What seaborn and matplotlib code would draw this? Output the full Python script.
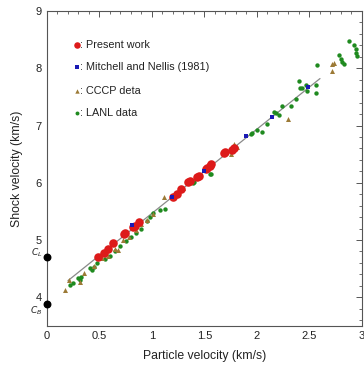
import numpy as np
import pandas as pd
import matplotlib
matplotlib.use("Agg")
import matplotlib.pyplot as plt
from matplotlib.ticker import MultipleLocator
import seaborn as sns

# Present work
present_up = [0.49, 0.54, 0.58, 0.63, 0.73, 0.74, 0.82, 0.84, 0.88, 1.20, 1.24, 1.28,
              1.34, 1.36, 1.43, 1.45, 1.51, 1.52, 1.55, 1.56, 1.69, 1.70, 1.76, 1.78]
present_us = [4.70, 4.78, 4.84, 4.95, 5.10, 5.13, 5.22, 5.24, 5.32, 5.76, 5.80, 5.89,
              6.01, 6.03, 6.10, 6.12, 6.24, 6.26, 6.30, 6.32, 6.52, 6.54, 6.57, 6.61]

# Mitchell and Nellis (1981)
mn_up = [0.81, 1.19, 1.50, 1.90, 2.14, 2.49]
mn_us = [5.26, 5.75, 6.20, 6.82, 7.14, 7.67]

# CCCP data
cccp_up = [0.17, 0.21, 0.31, 0.35, 0.45, 0.52, 0.58, 0.65, 0.68, 0.72, 0.78, 0.85,
           0.90, 0.95, 1.01, 1.11, 1.25, 1.30, 1.75, 1.78, 1.81, 2.30, 2.71, 2.71, 2.73]
cccp_us = [4.12, 4.30, 4.27, 4.43, 4.55, 4.68, 4.72, 4.85, 4.83, 5.00, 5.05, 5.18,
           5.28, 5.35, 5.45, 5.76, 5.82, 5.90, 6.51, 6.68, 6.63, 7.12, 7.96, 8.07, 8.10]

# LANL data
lanl_up = [0.22, 0.25, 0.30, 0.31, 0.32, 0.41, 0.43, 0.45, 0.48, 0.55, 0.60, 0.65,
           0.70, 0.75, 0.80, 0.85, 0.90, 0.95, 0.98, 1.01, 1.08, 1.12, 1.39, 1.40,
           1.55, 1.56, 1.94, 1.95, 2.00, 2.05, 2.10, 2.16, 2.18, 2.21, 2.24, 2.32,
           2.37, 2.40, 2.41, 2.43, 2.47, 2.48, 2.56, 2.56, 2.57, 2.78, 2.80, 2.81,
           2.83, 2.88, 2.92, 2.94, 2.94, 2.95]
lanl_us = [4.22, 4.25, 4.33, 4.30, 4.36, 4.51, 4.48, 4.53, 4.59, 4.66, 4.72, 4.80,
           4.90, 4.98, 5.05, 5.13, 5.20, 5.33, 5.41, 5.47, 5.52, 5.55, 6.00, 6.02,
           6.16, 6.16, 6.86, 6.87, 6.92, 6.89, 7.02, 7.24, 7.21, 7.18, 7.34, 7.34,
           7.46, 7.78, 7.65, 7.66, 7.71, 7.61, 7.57, 7.71, 8.05, 8.23, 8.17, 8.11,
           8.08, 8.48, 8.40, 8.33, 8.27, 8.21]

# linear fit line endpoints
fit_up = [0.20, 2.60]
fit_us = [4.29, 7.82]

# sound speeds on the y axis
c_names = ["$C_L$", "$C_B$"]
c_us = [4.70, 3.88]

sns.set_theme(style="white")
plt.rcParams["font.family"] = ["Liberation Sans", "DejaVu Sans"]

fig = plt.figure(figsize=(3.64, 3.67), dpi=100)
ax = fig.add_axes([0.129, 0.112, 0.8655, 0.858])

ax.plot(fit_up, fit_us, color="#8a8a8a", lw=0.9, zorder=1)

sns.scatterplot(x=lanl_up, y=lanl_us, ax=ax, color="#1f8a1f", marker="o", s=10,
                linewidth=0, zorder=2)
sns.scatterplot(x=cccp_up, y=cccp_us, ax=ax, color="#9c7a36", marker="^", s=13,
                linewidth=0, zorder=3)
sns.scatterplot(x=present_up, y=present_us, ax=ax, color="#dd1a1a", marker="o", s=38,
                linewidth=0, zorder=4)
sns.scatterplot(x=mn_up, y=mn_us, ax=ax, color="#1a1ab4", marker="s", s=12,
                linewidth=0, zorder=5)

ax.scatter([0, 0], c_us, color="black", s=22, zorder=6, clip_on=False)
ax.text(-0.045, c_us[0] + 0.07, c_names[0], fontsize=6.5, ha="right", va="center")
ax.text(-0.045, c_us[1] - 0.12, c_names[1], fontsize=6.5, ha="right", va="center")

# legend drawn as text rows
leg_y = [8.40, 8.02, 7.60, 7.22]
leg_labels = [": Present work", ": Mitchell and Nellis (1981)", ": CCCP deta", ": LANL data"]
leg_style = [("#dd1a1a", "o", 22), ("#1a1ab4", "s", 9), ("#9c7a36", "^", 10), ("#1f8a1f", "o", 8)]
for yy, lab, (col, mk, sz) in zip(leg_y, leg_labels, leg_style):
    ax.scatter([0.285], [yy], color=col, marker=mk, s=sz, linewidth=0)
    ax.text(0.31, yy, lab, fontsize=7.8, va="center", ha="left", color="#222222")

ax.set_xlim(0, 3)
ax.set_ylim(3.5, 9)
ax.xaxis.set_minor_locator(MultipleLocator(0.1))
ax.yaxis.set_minor_locator(MultipleLocator(0.2))
ax.set_xticks([0, 0.5, 1, 1.5, 2, 2.5, 3])
ax.set_xticklabels(["0", "0.5", "1", "1.5", "2", "2.5", "3"])
ax.set_yticks([4, 5, 6, 7, 8, 9])
ax.tick_params(which="both", direction="in", top=True, right=True, colors="#555555",
               labelcolor="#222222", labelsize=8)
ax.tick_params(which="major", length=4, width=0.7, pad=4)
ax.tick_params(which="minor", length=2, width=0.6)
for sp in ax.spines.values():
    sp.set_color("#555555")
    sp.set_linewidth(0.8)

ax.set_xlabel("Particle velocity (km/s)", fontsize=8.8, labelpad=6, color="#222222")
ax.set_ylabel("Shock velocity (km/s)", fontsize=8.8, labelpad=9, color="#222222")

fig.savefig("out.png", dpi=100)
